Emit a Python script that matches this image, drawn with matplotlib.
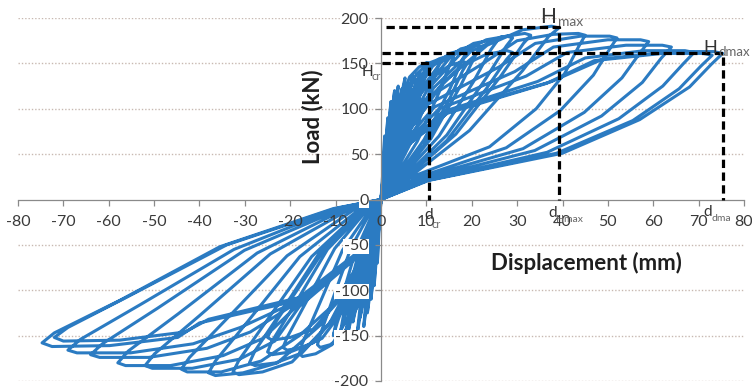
"""Cyclic load-displacement hysteresis with Hcr / Hmax / Hdmax markers."""

import matplotlib
matplotlib.use("Agg")
import matplotlib.pyplot as plt

# ---- data: each loop is a list of (displacement mm, load kN)
POS_SPIKES = [
    [(0, 0), (0.4, 30), (0.8, 70), (0.7, 50), (0.3, 15), (0, 0)],
    [(0, 0), (0.6, 35), (1.5, 90), (1.3, 70), (0.7, 30), (0, 0)],
    [(0, 0), (0.9, 45), (2.2, 108), (1.9, 85), (1.1, 40), (0, 0)],
    [(0, 0), (1.2, 50), (2.6, 105), (3.0, 120), (2.6, 95), (1.6, 45), (0.2, 2)],
    [(0, 0), (1.5, 48), (3.4, 112), (3.8, 125), (3.3, 98), (2.1, 50), (0.3, 3)],
    [(0, 0), (1.8, 45), (4.1, 110), (4.6, 122), (4.0, 95), (2.6, 48), (0.4, 4)],
    [(0, 0), (2.0, 48), (4.7, 120), (5.3, 134), (4.6, 105), (3.0, 55), (0.5, 5)],
    [(0, 0), (2.4, 46), (5.6, 115), (6.2, 128), (5.4, 100), (3.5, 52), (0.6, 5)],
    [(0, 0), (2.7, 50), (6.3, 122), (7.0, 137), (6.1, 108), (4.0, 55), (0.7, 6)],
    [(0, 0), (3.0, 48), (7.1, 118), (7.8, 132), (6.8, 104), (4.4, 55), (0.8, 6)],
    [(0, 0), (3.3, 52), (7.8, 125), (8.6, 140), (7.6, 112), (4.9, 58), (0.9, 6)],
    [(0, 0), (3.6, 50), (8.5, 122), (9.3, 135), (8.2, 108), (5.3, 56), (1.0, 6)],
]
NEG_SPIKES = [
    [(0, 0), (-0.4, -30), (-0.8, -70), (-0.7, -50), (-0.3, -15), (0, 0)],
    [(0, 0), (-0.6, -38), (-1.5, -95), (-1.3, -72), (-0.7, -30), (0, 0)],
    [(0, 0), (-0.9, -45), (-2.2, -110), (-1.9, -88), (-1.1, -40), (0, 0)],
    [(0, 0), (-1.2, -52), (-2.6, -110), (-3.0, -125), (-2.6, -98), (-1.6, -48), (-0.2, -2)],
    [(0, 0), (-1.5, -55), (-3.4, -125), (-3.8, -140), (-3.3, -110), (-2.1, -55), (-0.3, -3)],
    [(0, 0), (-1.8, -50), (-4.1, -117), (-4.6, -130), (-4.0, -102), (-2.6, -52), (-0.4, -4)],
    [(0, 0), (-2.1, -58), (-4.8, -134), (-5.3, -150), (-4.6, -118), (-3.0, -60), (-0.5, -5)],
    [(0, 0), (-2.4, -50), (-5.6, -122), (-6.2, -135), (-5.4, -106), (-3.5, -55), (-0.6, -5)],
    [(0, 0), (-2.8, -55), (-6.5, -130), (-7.2, -145), (-6.3, -115), (-4.1, -58), (-0.7, -6)],
    [(0, 0), (-3.1, -58), (-7.3, -140), (-8.0, -155), (-7.0, -122), (-4.5, -62), (-0.8, -6)],
    [(0, 0), (-3.5, -55), (-8.2, -133), (-9.0, -148), (-7.9, -117), (-5.0, -60), (-0.9, -6)],
    [(0, 0), (-4.0, -55), (-9.6, -135), (-10.5, -150), (-9.2, -118), (-5.8, -60), (-1.0, -6)],
]
POS_MID = [
    [(0, 0), (1.6, 18), (5.2, 60), (8.4, 112), (10.0, 142), (10.5, 150), (10.1, 151), (8.4, 146), (6.3, 135), (3.7, 100), (1.5, 45), (0, 0)],
    [(0, 0), (2.0, 18), (6.5, 62), (10.4, 114), (12.4, 144), (13.0, 152), (12.5, 154), (10.4, 150), (7.8, 138), (4.6, 103), (2.0, 46), (0, 0)],
    [(0, 0), (2.4, 19), (8.0, 64), (12.8, 118), (15.2, 149), (16.0, 157), (15.4, 159), (12.8, 155), (9.6, 142), (5.6, 107), (2.2, 48), (0, 0)],
    [(0, 0), (2.9, 18), (9.5, 60), (15.2, 112), (18.0, 142), (19.0, 150), (18.2, 152), (15.2, 148), (11.4, 135), (6.7, 102), (2.4, 45), (0, 0)],
    [(0, 0), (2.9, 20), (9.5, 66), (15.2, 122), (18.0, 155), (19.0, 163), (18.2, 165), (15.2, 161), (11.4, 147), (6.7, 111), (2.4, 50), (0, 0)],
    [(0, 0), (3.3, 20), (11.0, 67), (17.6, 126), (20.9, 160), (22.0, 168), (21.1, 170), (17.6, 166), (13.2, 151), (7.7, 114), (2.6, 51), (0, 0)],
    [(0, 0), (3.8, 21), (12.8, 70), (20.4, 130), (24.2, 165), (25.5, 174), (24.5, 176), (20.4, 172), (15.3, 157), (8.9, 118), (2.8, 52), (0, 0)],
    [(0, 0), (4.4, 19), (14.5, 65), (23.2, 122), (27.6, 154), (29.0, 162), (27.8, 164), (23.2, 160), (17.4, 146), (10.2, 110), (3.0, 49), (0, 0)],
    [(0, 0), (4.4, 21), (14.5, 71), (23.2, 134), (27.6, 169), (29.0, 178), (27.8, 180), (23.2, 176), (17.4, 160), (10.2, 121), (3.0, 53), (0, 0)],
    [(0, 0), (5.0, 22), (16.5, 72), (26.4, 136), (31.4, 172), (33.0, 181), (31.7, 183), (26.4, 179), (19.8, 163), (11.6, 123), (3.2, 54), (0, 0)],
    [(0, 0), (5.9, 23), (19.5, 76), (31.2, 142), (37.0, 180), (39.2, 189), (37.6, 191), (31.2, 187), (23.4, 170), (13.7, 129), (3.5, 57), (0, 0)],
]
NEG_MID = [
    [(0, 0), (-2.0, -11), (-6.6, -53), (-10.8, -112), (-13.4, -149), (-14.0, -160), (-13.4, -163), (-11.2, -160), (-8.4, -150), (-4.9, -115), (-2.0, -48), (0, 0)],
    [(0, 0), (-2.5, -12), (-8.5, -56), (-13.9, -119), (-17.3, -158), (-18.0, -170), (-17.3, -173), (-14.4, -170), (-10.8, -160), (-6.3, -122), (-2.2, -51), (0, 0)],
    [(0, 0), (-3.0, -11), (-10.2, -54), (-16.6, -114), (-20.7, -152), (-21.6, -163), (-20.7, -166), (-17.3, -163), (-13.0, -153), (-7.6, -117), (-2.4, -49), (0, 0)],
    [(0, 0), (-3.5, -11), (-11.8, -50), (-19.3, -106), (-24.0, -141), (-25.0, -152), (-24.0, -155), (-20.0, -152), (-15.0, -143), (-8.8, -109), (-2.6, -46), (0, 0)],
    [(0, 0), (-3.5, -12), (-11.8, -55), (-19.3, -118), (-24.0, -156), (-25.0, -168), (-24.0, -171), (-20.0, -168), (-15.0, -158), (-8.8, -121), (-2.6, -50), (0, 0)],
    [(0, 0), (-4.1, -13), (-13.6, -59), (-22.3, -126), (-27.8, -167), (-29.0, -180), (-27.8, -183), (-23.2, -180), (-17.4, -169), (-10.2, -130), (-2.8, -54), (0, 0)],
    [(0, 0), (-4.6, -13), (-15.3, -63), (-25.1, -133), (-31.3, -177), (-32.6, -190), (-31.3, -193), (-26.1, -190), (-19.6, -179), (-11.4, -137), (-3.0, -57), (0, 0)],
    [(0, 0), (-5.3, -13), (-17.9, -63), (-29.3, -134), (-36.5, -178), (-38.0, -191), (-36.5, -194), (-30.4, -191), (-22.8, -180), (-13.3, -138), (-3.2, -57), (0, 0)],
]
POS_LARGE = [
    [(0, 0), (6.3, 24), (23.9, 58), (34.2, 100), (40.5, 139), (43.5, 168), (45.0, 181), (43.5, 183), (38.0, 182), (30.0, 175), (22.5, 150), (9.0, 108), (3.0, 54), (0, 0)],
    [(0, 0), (7.3, 23), (27.6, 57), (39.5, 98), (46.8, 137), (50.3, 165), (52.0, 178), (50.4, 180), (44.0, 180), (34.0, 172), (26.0, 146), (10.4, 105), (3.0, 53), (0, 0)],
    [(0, 0), (8.3, 23), (31.3, 56), (44.8, 96), (53.1, 134), (57.0, 161), (59.0, 174), (57.2, 176), (50.0, 176), (38.0, 168), (29.5, 141), (11.8, 102), (3.0, 52), (0, 0)],
    [(0, 0), (9.0, 22), (33.9, 54), (48.6, 92), (57.6, 129), (61.8, 156), (64.0, 168), (62.0, 170), (54.0, 170), (41.0, 162), (32.0, 136), (12.8, 100), (3.0, 50), (0, 0)],
    [(0, 0), (9.7, 21), (36.6, 52), (52.4, 89), (62.1, 125), (66.7, 150), (69.0, 162), (67.0, 164), (58.0, 164), (45.0, 156), (34.5, 130), (13.8, 97), (3.0, 49), (0, 0)],
    [(0, 0), (10.2, 21), (38.7, 51), (55.5, 87), (65.7, 122), (70.5, 147), (73.0, 159), (71.0, 161), (62.0, 161), (47.0, 153), (36.5, 128), (14.6, 95), (3.0, 48), (0, 0)],
    [(0, 0), (10.5, 21), (40.0, 51), (57.0, 88), (68.0, 124), (72.8, 149), (75.3, 161), (73.3, 163), (64.0, 163), (49.0, 155), (37.6, 130), (15.0, 97), (3.0, 48), (0, 0)],
]
NEG_LARGE = [
    [(0, 0), (-6.2, -12), (-20.7, -62), (-33.9, -131), (-42.2, -174), (-44.0, -187), (-42.7, -190), (-35.2, -190), (-26.4, -178), (-18.0, -150), (-8.0, -105), (-3.0, -55), (0, 0)],
    [(0, 0), (-7.3, -12), (-24.4, -60), (-40.0, -128), (-49.9, -170), (-52.0, -183), (-50.4, -186), (-41.6, -186), (-31.2, -176), (-23.4, -156), (-18.0, -118), (-3.0, -54), (0, 0)],
    [(0, 0), (-8.1, -11), (-27.3, -59), (-44.7, -126), (-55.7, -167), (-58.0, -180), (-56.3, -183), (-46.4, -183), (-34.8, -172), (-26.0, -153), (-18.0, -115), (-3.0, -53), (0, 0)],
    [(0, 0), (-9.0, -11), (-30.1, -56), (-49.3, -120), (-61.4, -159), (-64.0, -171), (-62.0, -174), (-51.2, -174), (-38.4, -164), (-28.8, -146), (-18.0, -112), (-3.0, -52), (0, 0)],
    [(0, 0), (-9.7, -10), (-32.4, -55), (-53.1, -116), (-66.2, -154), (-69.0, -166), (-67.0, -169), (-55.2, -169), (-41.4, -159), (-31.0, -141), (-18.0, -111), (-3.0, -52), (0, 0)],
    [(0, 0), (-10.0, -10), (-34.0, -50), (-55.4, -106), (-69.0, -141), (-72.0, -152), (-70.0, -156), (-57.6, -155), (-43.2, -146), (-38.0, -132), (-18.0, -108), (-3.0, -50), (0, 0)],
    [(0, 0), (-10.5, -10), (-35.5, -52), (-57.5, -111), (-72.0, -147), (-74.7, -158), (-72.5, -162), (-59.8, -161), (-44.8, -152), (-40.0, -136), (-18.0, -111), (-3.0, -52), (0, 0)],
]

# characteristic points (displacement, load)
H_CR = (10.5, 150)
H_MAX = (39.3, 190)
H_DMAX = (75.3, 161)

X_TICKS = list(range(-80, 81, 10))
Y_TICKS = list(range(-200, 201, 50))

BLUE = "#2b7bc2"


def chain_loops(*groups):
    """Interleave positive / negative loops into one load history."""
    disp, load = [], []
    for pos, neg in groups:
        for i in range(max(len(pos), len(neg))):
            for loop in (pos[i] if i < len(pos) else [], neg[i] if i < len(neg) else []):
                for d, f in loop:
                    disp.append(d)
                    load.append(f)
    return disp, load


def main():
    plt.rcParams["font.family"] = ["Lato", "DejaVu Sans"]
    plt.rcParams["axes.unicode_minus"] = False

    fig = plt.figure(figsize=(7.52, 3.92), dpi=100)
    ax = fig.add_axes([18 / 752, 11 / 392, 726 / 752, 363 / 392])

    # dotted horizontal gridlines, kept under the data
    for y in Y_TICKS:
        if y != 0:
            ax.axhline(y, linestyle=(0, (1, 1.4)), color="#c8b9b1", lw=1.0, zorder=0.5)

    disp, load = chain_loops(
        (POS_SPIKES, NEG_SPIKES), (POS_MID, NEG_MID), (POS_LARGE, NEG_LARGE)
    )
    ax.plot(disp, load, color=BLUE, lw=2.2, solid_joinstyle="round", zorder=2)

    dash = dict(color="black", lw=2.3, dashes=(2.6, 1.4), zorder=4)
    for d, h, x0 in ((H_CR[0], H_CR[1], 0.3), (H_MAX[0], H_MAX[1], 1.0), (H_DMAX[0], H_DMAX[1], 0.2)):
        ax.plot([x0, d, d], [h, h, 0], **dash)

    ax.set_xlim(-80, 80)
    ax.set_ylim(-200, 200)
    ax.set_xticks(X_TICKS)
    ax.set_yticks(Y_TICKS)
    ax.set_axisbelow(False)

    for side in ("top", "right"):
        ax.spines[side].set_visible(False)
    for side in ("left", "bottom"):
        ax.spines[side].set_position(("data", 0))
        ax.spines[side].set_color("#8a8a8a")
        ax.spines[side].set_linewidth(0.9)

    ax.tick_params(axis="x", direction="out", length=4, width=0.9, color="#8a8a8a",
                   pad=7.5, labelsize=11.5, labelcolor="#3a3a3a")
    ax.tick_params(axis="y", direction="out", length=4, width=0.9, color="#8a8a8a",
                   pad=5, labelsize=11.5, labelcolor="#3a3a3a")
    for lbl in ax.get_yticklabels():
        lbl.set_bbox(dict(facecolor="white", edgecolor="none", pad=0.3))

    ax.text(-15, 91, "Load (kN)", rotation=90, ha="center", va="center",
            fontsize=16, fontweight="bold", color="#1e1e1e")
    ax.text(45.2, -70, "Displacement (mm)", ha="center", va="center",
            fontsize=16, fontweight="bold", color="#1e1e1e")

    main_kw = dict(ha="left", va="center", color="#333333", zorder=5, clip_on=False)
    sub_kw = dict(ha="left", va="center", color="#666666", zorder=5, clip_on=False)

    ax.text(-4.2, 140, "H", fontsize=11, **main_kw)
    ax.text(-2.0, 135, "cr", fontsize=8, **sub_kw)
    ax.text(35.0, 201, "H", fontsize=15, **main_kw)
    ax.text(38.9, 196, "max", fontsize=10, **sub_kw)
    ax.text(71.0, 167, "H", fontsize=13, **main_kw)
    ax.text(74.4, 162.5, "dmax", fontsize=9.5, **sub_kw)

    ax.text(9.5, -17, "d", fontsize=11, **main_kw)
    ax.text(11.1, -27, "cr", fontsize=8, **sub_kw)
    ax.text(36.8, -15, "d", fontsize=11, **main_kw)
    ax.text(38.6, -22, "Hmax", fontsize=7.5, **sub_kw)
    ax.text(71.1, -14, "d", fontsize=11, **main_kw)
    ax.text(72.8, -21, "dma", fontsize=7.5, **sub_kw)

    fig.savefig("out.png", dpi=100)


if __name__ == "__main__":
    main()
